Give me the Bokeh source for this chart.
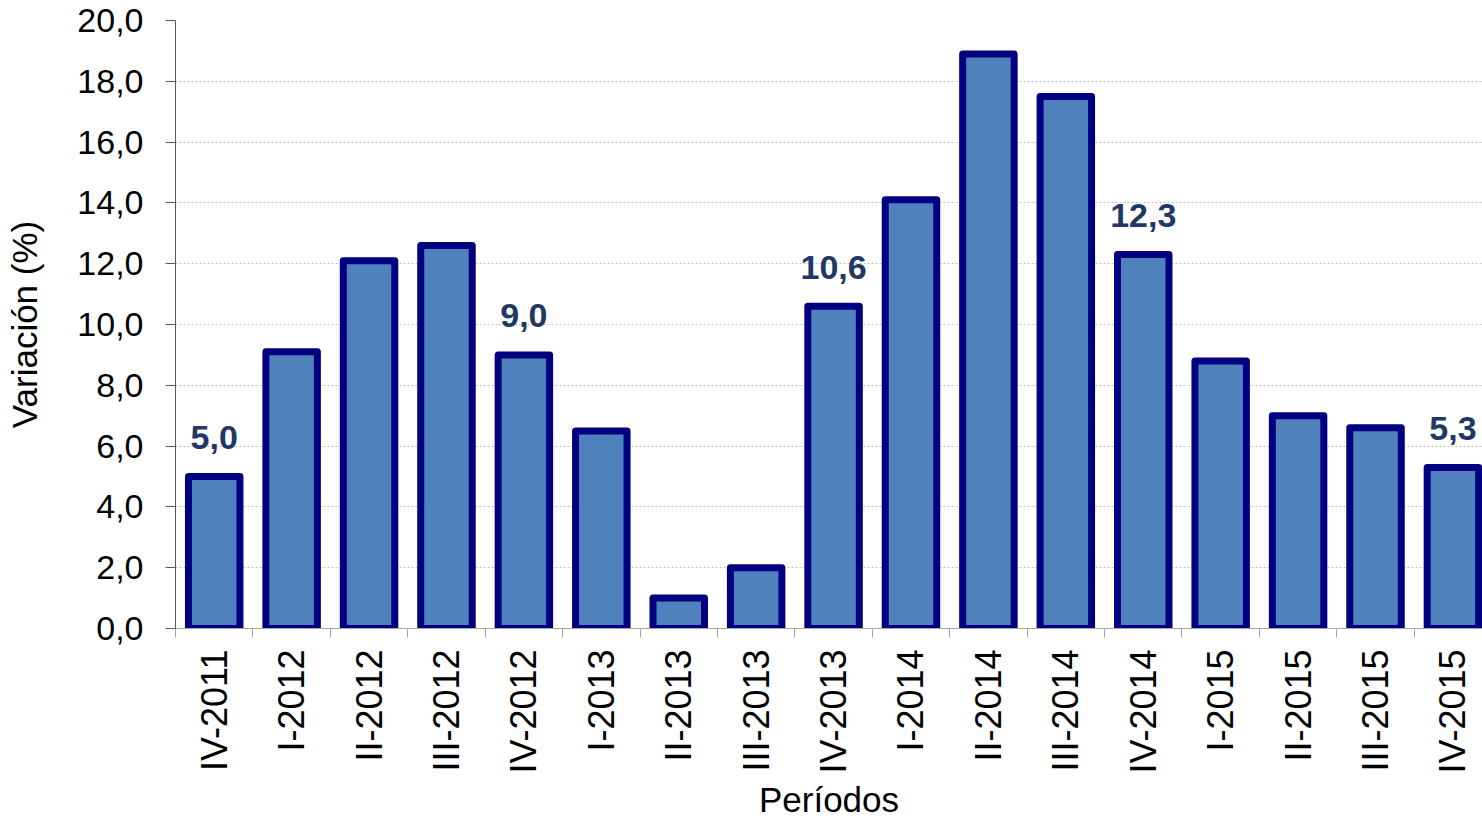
import math
from bokeh.plotting import figure
from bokeh.models import Range1d, FixedTicker, CustomJSTickFormatter, ColumnDataSource, Title
from bokeh.embed import file_html
from bokeh.resources import INLINE
from bokeh.core.properties import value

# ---- data ----
periods = ["IV-2011", "I-2012", "II-2012", "III-2012", "IV-2012", "I-2013", "II-2013",
           "III-2013", "IV-2013", "I-2014", "II-2014", "III-2014", "IV-2014", "I-2015",
           "II-2015", "III-2015", "IV-2015"]
variation = [5.0, 9.1, 12.1, 12.6, 9.0, 6.5, 1.0, 2.0, 10.6, 14.1, 18.9, 17.5, 12.3, 8.8,
             7.0, 6.6, 5.3]
labelled_periods = ["IV-2011", "IV-2012", "IV-2013", "IV-2014", "IV-2015"]
y_ticks = [0, 2, 4, 6, 8, 10, 12, 14, 16, 18, 20]
x_title = "Períodos"
y_title = "Variación (%)"

FONT = "Liberation Sans"

centers = [i + 0.5 for i in range(len(periods))]
bounds = [float(i) for i in range(len(periods) + 1)]

src = ColumnDataSource(dict(x=centers, top=variation, name=periods))
lab_idx = [periods.index(q) for q in labelled_periods]
lab_src = ColumnDataSource(dict(
    x=[centers[i] for i in lab_idx],
    y=[variation[i] for i in lab_idx],
    t=[f"{variation[i]:.1f}".replace(".", ",") for i in lab_idx],
))

p = figure(width=1482, height=819,
           x_range=Range1d(0, len(periods) - 0.118), y_range=Range1d(y_ticks[0], y_ticks[-1]),
           output_backend="svg", toolbar_location=None,
           min_border_left=175, min_border_right=0, min_border_top=20, min_border_bottom=191,
           y_axis_label=y_title)
p.outline_line_color = None
p.background_fill_color = "white"
p.border_fill_color = "white"

p.vbar(x="x", top="top", bottom=0, width=0.665, source=src,
       fill_color="#4F81BD", line_color="#000080", line_width=7, line_join="round")

p.text(x="x", y="y", text="t", source=lab_src, y_offset=-39,
       text_font=value(FONT), text_font_style="bold", text_font_size="34px",
       text_color="#1F3864", text_align="center", text_baseline="alphabetic")

# grid
p.xgrid.visible = False
p.ygrid.ticker = FixedTicker(ticks=y_ticks)
p.ygrid.grid_line_color = "#BFBFBF"
p.ygrid.grid_line_dash = "2 2"
p.ygrid.grid_line_width = 1

# y axis
yax = p.yaxis[0]
yax.ticker = FixedTicker(ticks=y_ticks)
yax.formatter = CustomJSTickFormatter(code="return tick.toFixed(1).replace('.', ',');")
yax.axis_line_color = "#595959"
yax.major_tick_line_color = "#595959"
yax.major_tick_out = 10
yax.major_tick_in = 0
yax.minor_tick_line_color = None
yax.major_label_standoff = 22
yax.major_label_text_font = FONT
yax.major_label_text_font_size = "34px"
yax.major_label_text_color = "black"
yax.axis_label_text_font = FONT
yax.axis_label_text_font_size = "35px"
yax.axis_label_text_font_style = "normal"
yax.axis_label_text_color = "black"
yax.axis_label_standoff = 30

# x axis
xax = p.xaxis[0]
xax.ticker = FixedTicker(ticks=centers, minor_ticks=bounds)
xax.formatter = CustomJSTickFormatter(args=dict(names=periods),
                                      code="return names[Math.floor(tick)];")
xax.major_label_orientation = math.pi / 2
xax.axis_line_color = "#A6A6A6"
xax.major_tick_line_color = None
xax.major_tick_out = 0
xax.major_tick_in = 0
xax.minor_tick_line_color = "#A6A6A6"
xax.minor_tick_out = 9
xax.minor_tick_in = 0
xax.major_label_standoff = 12
xax.major_label_text_font = FONT
xax.major_label_text_font_size = "36px"
xax.major_label_text_color = "black"

# x axis title
p.add_layout(Title(text=x_title, align="center", text_font=FONT, text_font_size="35px",
                   text_font_style="normal", text_color="black", standoff=2), "below")

open("out.html", "w").write(file_html(p, INLINE))
